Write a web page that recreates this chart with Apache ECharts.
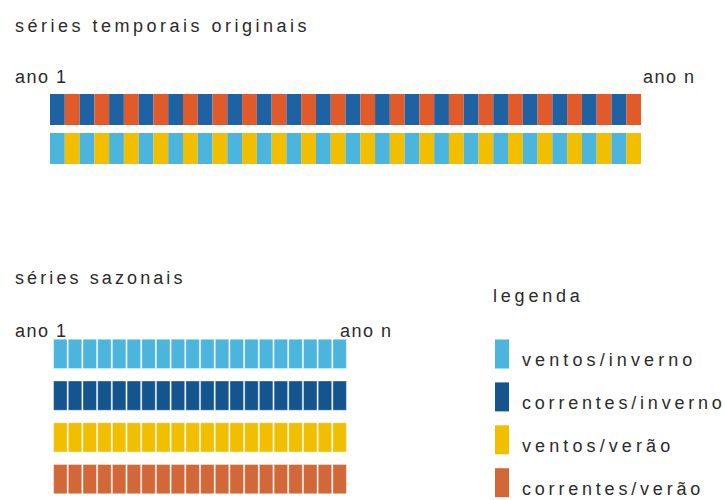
<!DOCTYPE html>
<html>
<head>
<meta charset="utf-8">
<title>séries temporais originais / séries sazonais</title>
<script src="https://cdn.jsdelivr.net/npm/echarts@6/dist/echarts.min.js"></script>
<style>
  html, body { margin: 0; background: #fff; }
  #chart { width: 725px; height: 500px; }
</style>
</head>
<body>
<div id="chart"></div>
<script>
// anos da série sazonal (ano 1 ... ano n)
const anos = ['1', '2', '3', '4', '5', '6', '7', '8', '9', '10',
  '11', '12', '13', '14', '15', '16', '17', '18', '19', '20']

// semestres da série original (inverno / verão alternados)
const semestres = ['1i', '1v', '2i', '2v', '3i', '3v', '4i', '4v', '5i', '5v',
  '6i', '6v', '7i', '7v', '8i', '8v', '9i', '9v', '10i', '10v',
  '11i', '11v', '12i', '12v', '13i', '13v', '14i', '14v', '15i', '15v',
  '16i', '16v', '17i', '17v', '18i', '18v', '19i', '19v', '20i', '20v']

const linhasOriginais = ['correntes', 'ventos']

const serieCorrentes = ['CI', 'CV', 'CI', 'CV', 'CI', 'CV', 'CI', 'CV', 'CI', 'CV',
  'CI', 'CV', 'CI', 'CV', 'CI', 'CV', 'CI', 'CV', 'CI', 'CV',
  'CI', 'CV', 'CI', 'CV', 'CI', 'CV', 'CI', 'CV', 'CI', 'CV',
  'CI', 'CV', 'CI', 'CV', 'CI', 'CV', 'CI', 'CV', 'CI', 'CV']

const serieVentos = ['VI', 'VV', 'VI', 'VV', 'VI', 'VV', 'VI', 'VV', 'VI', 'VV',
  'VI', 'VV', 'VI', 'VV', 'VI', 'VV', 'VI', 'VV', 'VI', 'VV',
  'VI', 'VV', 'VI', 'VV', 'VI', 'VV', 'VI', 'VV', 'VI', 'VV',
  'VI', 'VV', 'VI', 'VV', 'VI', 'VV', 'VI', 'VV', 'VI', 'VV']

const legenda = ['ventos/inverno', 'correntes/inverno', 'ventos/verão', 'correntes/verão']
const codigos = ['VI', 'CI', 'VV', 'CV']

const coresSazonais = { VI: '#4bb5dd', CI: '#14548f', VV: '#f2be00', CV: '#d26838' }
const coresOriginais = { VI: '#4bb5dd', CI: '#1f62a3', VV: '#f2be00', CV: '#e05a2a' }

const fonte = '"Liberation Sans", Arial, sans-serif'
const corTexto = '#2b2b2b'

// espaçamento entre letras de cada texto (px)
const espacamento = {
  'séries temporais originais': 3.5,
  'séries sazonais': 3.1,
  'ano 1': 1.5,
  'ano n': 1.5,
  'legenda': 3.8,
  'ventos/inverno': 4.1,
  'correntes/inverno': 3.8,
  'ventos/verão': 4.1,
  'correntes/verão': 3.8
}

const chart = echarts.init(document.getElementById('chart'), null, { renderer: 'svg' })

function celulaOriginal(params, api) {
  const centro = api.coord([api.value(0), api.value(1)])
  const tam = api.size([1, 1])
  const h = tam[1] - 8
  return {
    type: 'rect',
    shape: { x: centro[0] - tam[0] / 2, y: centro[1] - h / 2, width: tam[0], height: h },
    style: { fill: coresOriginais[codigos[api.value(2)]] }
  }
}

function celulaSazonal(params, api) {
  const centro = api.coord([api.value(0), api.value(1)])
  const tam = api.size([1, 1])
  const w = tam[0] - 1.2
  const h = tam[1] - 12.5
  return {
    type: 'rect',
    shape: { x: centro[0] - w / 2, y: centro[1] - h / 2, width: w, height: h },
    style: { fill: api.visual('color'), stroke: 'rgba(255,255,255,0.45)', lineWidth: 0.8 }
  }
}

const dadosOriginais = []
serieCorrentes.forEach((c, i) => dadosOriginais.push([i, 0, codigos.indexOf(c)]))
serieVentos.forEach((c, i) => dadosOriginais.push([i, 1, codigos.indexOf(c)]))

function titulo(text, left, top) {
  return { text, left, top, padding: 0, textStyle: { fontFamily: fonte, fontSize: 18, fontWeight: 'normal', color: corTexto } }
}

const seriesSazonais = legenda.map((nome, i) => ({
  name: nome,
  type: 'custom',
  xAxisIndex: 1,
  yAxisIndex: 1,
  itemStyle: { color: coresSazonais[codigos[i]] },
  renderItem: celulaSazonal,
  encode: { x: 0, y: 1 },
  data: anos.map((a, j) => [j, i])
}))

chart.setOption({
  animation: false,
  title: [
    titulo('séries temporais originais', 15, 17),
    titulo('ano 1', 15, 68),
    titulo('ano n', 643, 68),
    titulo('séries sazonais', 15, 269),
    titulo('ano 1', 15, 322),
    titulo('ano n', 340, 322),
    titulo('legenda', 493, 287)
  ],
  legend: {
    data: legenda,
    orient: 'vertical',
    left: 495,
    top: 339,
    height: 165,
    padding: 0,
    itemWidth: 14,
    itemHeight: 29,
    itemGap: 12.9,
    icon: 'rect',
    selectedMode: false,
    formatter: '{t|{name}}',
    textStyle: {
      fontFamily: fonte,
      fontSize: 18,
      color: corTexto,
      rich: { t: { fontFamily: fonte, fontSize: 18, lineHeight: 14, color: corTexto, padding: [12, 0, 0, 8] } }
    }
  },
  grid: [
    { left: 50, top: 90, width: 591, height: 78 },
    { left: 53, top: 333, width: 294, height: 170 }
  ],
  xAxis: [
    { type: 'category', gridIndex: 0, data: semestres, show: false },
    { type: 'category', gridIndex: 1, data: anos, show: false }
  ],
  yAxis: [
    { type: 'category', gridIndex: 0, data: linhasOriginais, inverse: true, show: false },
    { type: 'category', gridIndex: 1, data: legenda, inverse: true, show: false }
  ],
  series: [
    {
      name: 'séries temporais originais',
      type: 'custom',
      xAxisIndex: 0,
      yAxisIndex: 0,
      renderItem: celulaOriginal,
      encode: { x: 0, y: 1 },
      data: dadosOriginais
    },
    ...seriesSazonais
  ]
})

function espacarTextos() {
  document.querySelectorAll('#chart svg text').forEach((el) => {
    const s = espacamento[el.textContent]
    if (s !== undefined) el.setAttribute('letter-spacing', s)
  })
}
espacarTextos()
chart.on('finished', espacarTextos)
</script>
</body>
</html>
